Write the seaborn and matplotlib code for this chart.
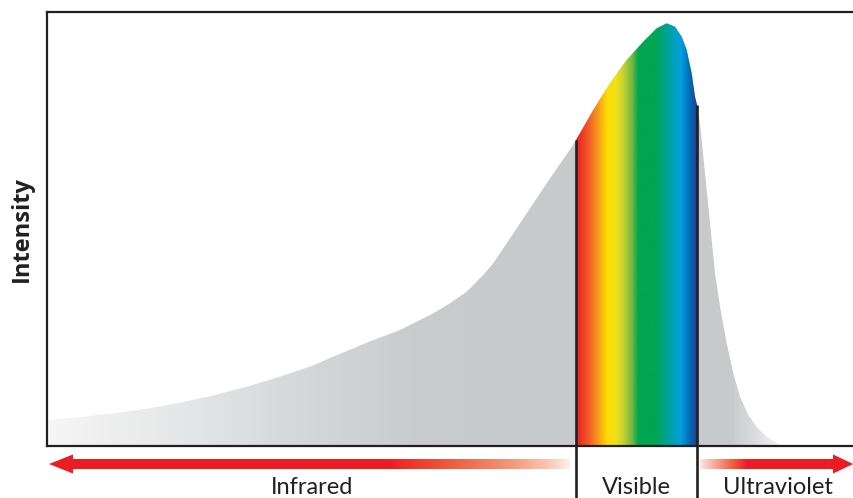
import numpy as np
import pandas as pd
import matplotlib
matplotlib.use("Agg")
import matplotlib.pyplot as plt
import matplotlib.patches as mpatches
from matplotlib.colors import LinearSegmentedColormap
import seaborn as sns

# ---------------- data (relative position 0-100, intensity 0-100) ----------------
position = [0.0, 0.83, 4.13, 8.27, 12.39, 16.52, 20.66, 24.78, 28.91, 33.05,
            35.48, 39.62, 43.74, 45.81, 47.87, 49.94, 52.01, 54.06, 55.30, 56.96,
            59.44, 61.92, 63.57, 64.81, 65.55, 67.69, 69.76, 71.83, 73.89, 75.55,
            76.79, 77.82, 78.65, 79.27, 79.89, 80.30, 80.55, 80.92, 81.54, 82.16,
            82.78, 83.40, 84.22, 85.04, 85.87, 86.90, 87.94, 89.18, 90.83, 91.08]
intensity = [6.0, 6.15, 6.68, 7.53, 8.59, 9.98, 11.69, 13.67, 16.0, 18.6,
             20.6, 23.80, 26.73, 28.64, 30.58, 32.88, 35.55, 39.40, 42.10, 46.71,
             53.62, 60.53, 65.0, 68.3, 70.5, 77.42, 83.57, 88.94, 93.16, 96.24,
             97.40, 96.61, 94.31, 91.24, 85.88, 80.48, 78.60, 74.35, 62.83, 51.31,
             39.79, 32.10, 23.66, 16.75, 11.36, 7.14, 4.45, 2.14, 0.23, 0.0]

visible_start = 65.55
visible_end = 80.55

region_labels = ["Infrared", "Visible", "Ultraviolet"]
region_centers = [32.8, 73.05, 90.6]

# colour stops (position, colour)
gray_stops = [(0, "#f6f6f6"), (19, "#e3e4e5"), (31, "#d6d7d8"), (45, "#cbcccd"),
              (55, "#c8c9cb"), (85, "#c9cacc"), (88, "#dcdddf"), (91, "#f4f4f4"),
              (100, "#ffffff")]
spectrum_stops = [(65.55, "#ed1c24"), (67.04, "#f15a29"), (68.15, "#f7941d"),
                  (69.39, "#ffdd00"), (70.38, "#f2e01a"), (71.38, "#c4d22e"),
                  (72.49, "#6bb844"), (73.23, "#00a651"), (75.34, "#00a651"),
                  (76.83, "#00a19a"), (78.44, "#00a0dc"), (79.43, "#0072bc"),
                  (80.55, "#1b3d8f")]
ir_arrow_stops = [(0.0, "#ed1c24"), (42.5, "#ed1c24"), (45.85, "#ef3b2c"),
                  (49.9, "#f05a40"), (54.0, "#f27a5a"), (58.2, "#f59d80"),
                  (62.3, "#f9c8b5"), (64.8, "#fdeee8")]
uv_arrow_stops = [(80.9, "#fce6df"), (83.0, "#f5a08a"), (85.0, "#f05a40"),
                  (86.7, "#ed1c24"), (100.0, "#ed1c24")]

INK = "#231f20"

sns.set_style("white")
plt.rcParams['font.family'] = ['Lato', 'DejaVu Sans']

fig = plt.figure(figsize=(8.54, 4.98), dpi=100)
ax = fig.add_axes([47 / 854, 52 / 498, 807 / 854, 434 / 498])

df = pd.DataFrame({"position": position, "intensity": intensity})
sns.lineplot(data=df, x="position", y="intensity", ax=ax, linewidth=0,
             color="#c8c9cb", legend=False)

fill = ax.fill_between(df["position"], df["intensity"], 0,
                       facecolor="none", edgecolor="none")
curve_path = fill.get_paths()[0]


def gradient(stops, x0, x1, y0, y1, clip, clip_transform=None, zorder=1,
             outside=False):
    span = x1 - x0
    cmap = LinearSegmentedColormap.from_list(
        "g", [((p - x0) / span, c) for p, c in stops])
    grad = np.linspace(0, 1, 1200).reshape(1, -1)
    im = ax.imshow(grad, cmap=cmap, extent=[x0, x1, y0, y1], aspect="auto",
                   origin="lower", interpolation="bilinear", zorder=zorder)
    if clip_transform is not None:
        im.set_clip_path(clip, transform=clip_transform)
    else:
        im.set_clip_path(clip)
    if outside:
        im.set_clip_box(fig.bbox)
    return im


# gray body of the spectrum
gradient(gray_stops, 0, 100, 0, 100, curve_path, ax.transData, zorder=1)
# visible rainbow
gradient(spectrum_stops, visible_start, visible_end, 0, 100, curve_path,
         ax.transData, zorder=2)

# boundary lines of the visible band
top_start = intensity[position.index(visible_start)]
top_end = intensity[position.index(visible_end)]
for xv, yt in [(visible_start, top_start), (visible_end, top_end)]:
    ax.plot([xv, xv], [-12.5, yt], color=INK, lw=1.9, clip_on=False,
            solid_capstyle="butt", zorder=4)

# arrows below the axis
ay = -4.15
ir_arrow = mpatches.FancyArrow(64.8, ay, -(64.8 - 0.25), 0, width=2.3,
                               head_width=4.4, head_length=2.97,
                               length_includes_head=True, transform=ax.transData)
uv_arrow = mpatches.FancyArrow(80.9, ay, 99.9 - 80.9, 0, width=2.3,
                               head_width=4.4, head_length=2.5,
                               length_includes_head=True, transform=ax.transData)
gradient(ir_arrow_stops, 0.0, 64.8, ay - 3, ay + 3, ir_arrow, zorder=3,
         outside=True)
gradient(uv_arrow_stops, 80.9, 100.0, ay - 3, ay + 3, uv_arrow, zorder=3,
         outside=True)

for lab, xc in zip(region_labels, region_centers):
    ax.text(xc, -11.0, lab, ha="center", va="baseline", fontsize=17,
            color=INK, clip_on=False)

ax.set_xlim(0, 100)
ax.set_ylim(0, 100)
ax.set_xticks([])
ax.set_yticks([])
ax.set_xlabel("")
ax.set_ylabel("Intensity", fontsize=17, fontweight="bold", color=INK,
              family=["Open Sans", "DejaVu Sans"])
ax.yaxis.set_label_coords(-0.0160, 0.5)

for side in ["left", "top", "bottom"]:
    ax.spines[side].set_color(INK)
    ax.spines[side].set_linewidth(1.6)
    ax.spines[side].set_zorder(5)
ax.spines["right"].set_visible(False)

fig.savefig("out.png", dpi=100)
